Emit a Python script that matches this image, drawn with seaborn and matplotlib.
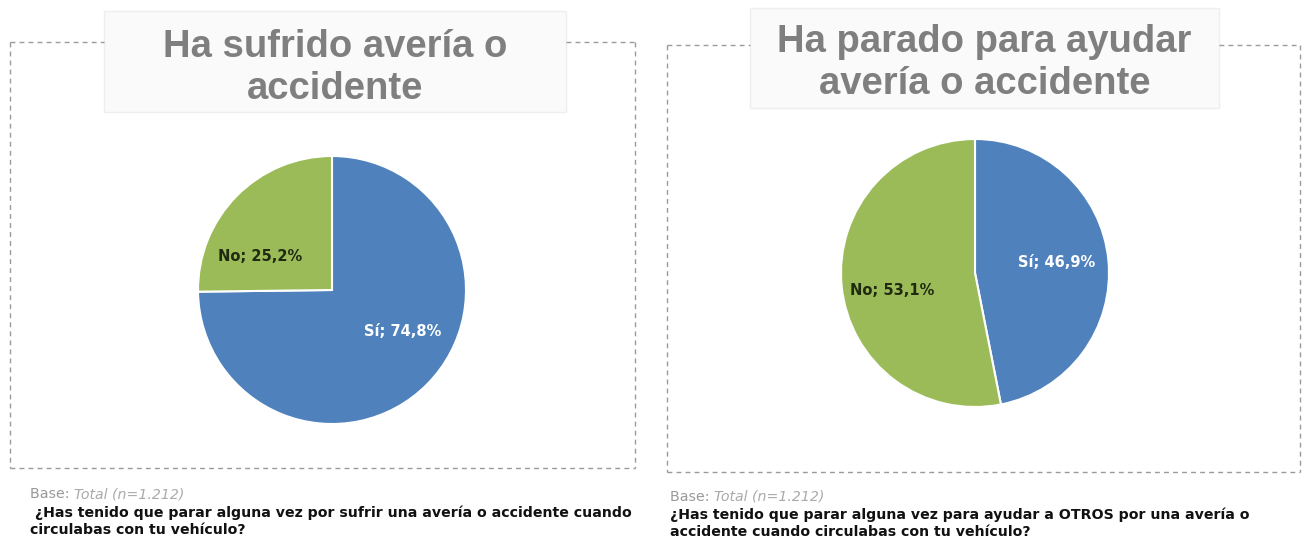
import matplotlib
matplotlib.use("Agg")
import matplotlib.pyplot as plt
import seaborn as sns
from matplotlib.patches import Rectangle

sns.set_theme(style="white")
plt.rcParams["font.family"] = ["Liberation Sans", "DejaVu Sans"]

# Data
categories = ["Sí", "No"]
sufrido_values = [74.8, 25.2]
ayudar_values = [46.9, 53.1]
titles = ["Ha sufrido avería o\naccidente", "Ha parado para ayudar\navería o accidente"]
questions = [
    " ¿Has tenido que parar alguna vez por sufrir una avería o accidente cuando\ncirculabas con tu vehículo?",
    "¿Has tenido que parar alguna vez para ayudar a OTROS por una avería o\naccidente cuando circulabas con tu vehículo?",
]
base_label = "Base:"
base_value = "Total (n=1.212)"

slice_colors = ["#4F81BD", "#9BBB59"]
label_colors = ["white", "#1f2a10"]

SMALL_FONT = ["DejaVu Sans"]

W, H = 1310, 543
fig = plt.figure(figsize=(W / 100, H / 100), dpi=100)
fig.patch.set_facecolor("white")


def fx(x):
    return x / W


def fy(y):
    return 1 - y / H


def dashed_box(x0, y0, x1, y1, gap):
    kw = dict(color="#9a9a9a", lw=1.0, ls=(0, (3.5, 3)), transform=fig.transFigure)
    fig.add_artist(plt.Line2D([fx(x0), fx(gap[0])], [fy(y0)] * 2, **kw))
    fig.add_artist(plt.Line2D([fx(gap[1]), fx(x1)], [fy(y0)] * 2, **kw))
    fig.add_artist(plt.Line2D([fx(x0), fx(x0)], [fy(y0), fy(y1)], **kw))
    fig.add_artist(plt.Line2D([fx(x1), fx(x1)], [fy(y0), fy(y1)], **kw))
    fig.add_artist(plt.Line2D([fx(x0), fx(x1)], [fy(y1)] * 2, **kw))


def title_box(x0, y0, x1, y1, text, text_cy):
    fig.add_artist(Rectangle((fx(x0), fy(y1)), fx(x1 - x0), (y1 - y0) / H,
                             transform=fig.transFigure, facecolor="#fafafa",
                             edgecolor="#efefef", lw=1.0))
    fig.text(fx((x0 + x1) / 2), fy(text_cy), text, ha="center", va="center",
             fontsize=27.5, fontweight="bold", color="#7f7f7f", linespacing=1.22)


def pie(cx, cy, r, values, label_pos):
    ax = fig.add_axes([fx(cx - r), fy(cy + r), 2 * r / W, 2 * r / H])
    ax.pie(values, colors=slice_colors, startangle=90, counterclock=False,
           wedgeprops=dict(edgecolor="white", linewidth=1.5))
    ax.set_xlim(-1, 1)
    ax.set_ylim(-1, 1)
    ax.set_aspect("equal")
    ax.axis("off")
    for cat, val, col, (lx, ly) in zip(categories, values, label_colors, label_pos):
        ax.text(lx, ly, f"{cat}; {val:.1f}%".replace(".", ","), ha="center", va="center",
                fontsize=10.5, fontweight="bold", color=col, family=SMALL_FONT)


def footer(x, y_base, y_q, question):
    t = fig.text(fx(x), fy(y_base), base_label + " ", ha="left", va="center",
                 fontsize=10.2, color="#999999", family=SMALL_FONT)
    fig.canvas.draw()
    bb = t.get_window_extent()
    fig.text(bb.x1 / W, fy(y_base), base_value, ha="left", va="center",
             fontsize=10.2, color="#aaaaaa", style="italic", family=SMALL_FONT)
    fig.text(fx(x), fy(y_q), question, ha="left", va="top",
             fontsize=10.2, fontweight="bold", color="#111111", linespacing=1.2,
             family=SMALL_FONT)


# Left panel
dashed_box(10, 42, 635, 468, (104, 566))
title_box(104, 11, 566, 112, titles[0], 68)
pie(332, 290, 134, sufrido_values, [(0.53, -0.31), (-0.54, 0.25)])
footer(30, 494, 506, questions[0])

# Right panel
dashed_box(667, 45, 1300, 472, (750, 1219))
title_box(750, 8, 1219, 108, titles[1], 63)
pie(975, 273, 134, ayudar_values, [(0.61, 0.08), (-0.62, -0.13)])
footer(670, 497, 508, questions[1])

fig.savefig("out.png", dpi=100, facecolor="white")
